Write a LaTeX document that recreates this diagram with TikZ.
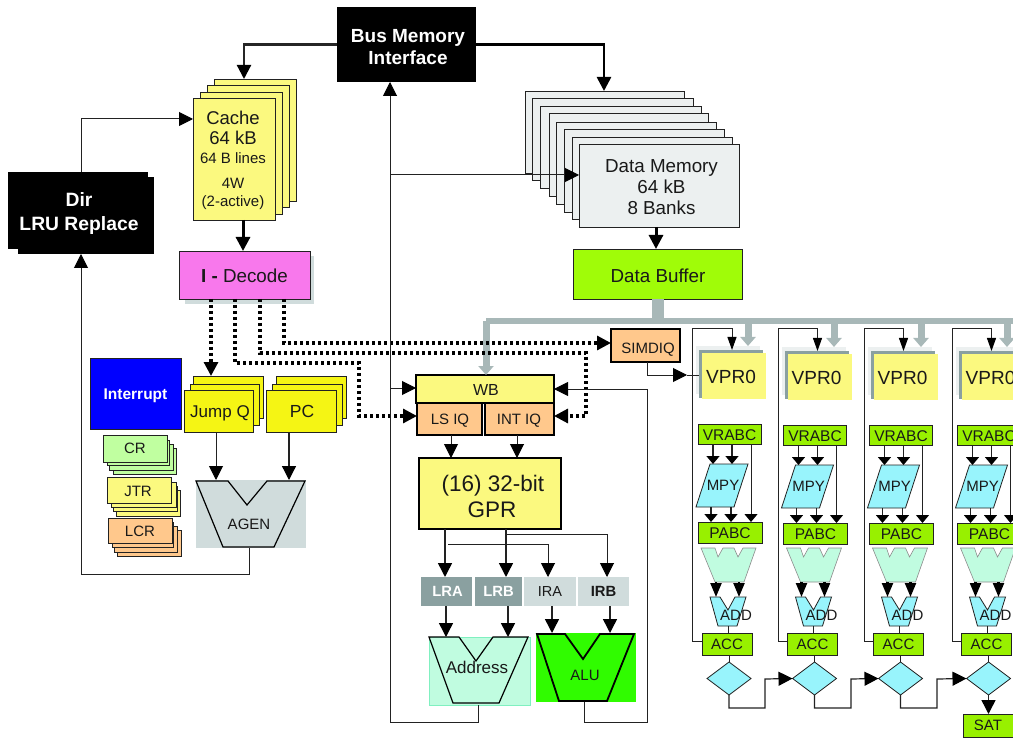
\documentclass[tikz,border=0pt]{standalone}
\usepackage{fontspec}
\setmainfont{Liberation Sans}
\usetikzlibrary{arrows.meta,shapes.geometric}
\definecolor{cYel}{HTML}{FBF97F}
\definecolor{cJmp}{HTML}{F5F514}
\definecolor{cOra}{HTML}{FFC88C}
\definecolor{cLim}{HTML}{C0FFA0}
\definecolor{cPnk}{HTML}{F878EC}
\definecolor{cGrn}{HTML}{A0FC08}
\definecolor{cAcc}{HTML}{98F000}
\definecolor{cCya}{HTML}{98F4FC}
\definecolor{cMnt}{HTML}{C0FCE0}
\definecolor{cMnB}{HTML}{80F0C0}
\definecolor{cAlu}{HTML}{30FC00}
\definecolor{cGry}{HTML}{D0DCDC}
\definecolor{cDrk}{HTML}{8AA0A0}
\definecolor{cBus}{HTML}{A8B8B8}
\definecolor{cPal}{HTML}{ECF0F0}
\definecolor{cLin}{HTML}{222222}
% zero-size text placed at an offset (dx, dy) from the node centre, cap-centred
\newcommand\tx[4]{{\fontsize{#3}{#3}\selectfont\raisebox{\dimexpr -#2pt-.36em\relax}[0pt][0pt]{\makebox[0pt]{\hspace*{\dimexpr #1pt*2\relax}#4}}}}
\newcommand\bx[7]{\node[#6,anchor=north west,minimum width={((#4)-(#2))*1pt},minimum height={((#5)-(#3))*1pt}] (#1) at (#2,#3) {#7};}
\tikzset{
  x=1pt,y=-1pt,
  every node/.style={inner sep=0pt,outer sep=0pt,text=black!90},
  card/.style={draw=cLin,line width=.9pt,fill=#1},
  heavy/.style={draw=black,line width=1.8pt,fill=#1},
  flat/.style={fill=#1},
  ghost/.style={},
  conn/.style={draw=cLin,line width=1pt},
  conm/.style={draw=cLin,line width=1.5pt},
  conh/.style={draw=black,line width=3pt},
  dots/.style={draw=black,line width=3.1pt,dash pattern=on 3pt off 3pt},
  busl/.style={draw=cBus,line width=6pt},
  busa/.style={draw=cBus,line width=7pt,-{Triangle[length=9pt,width=15pt]}},
  tipb/.style={-{Triangle[length=14pt,width=14pt,color=black,fill=black]}},
  tipv/.style={-{Triangle[length=13pt,width=9pt,color=black,fill=black]}},
  tipf/.style={-{Triangle[length=8pt,width=13pt,color=black,fill=black]}},
  tipt/.style={-{Triangle[length=14pt,width=11pt,color=black,fill=black]}},
  poly/.style={draw=black,line width=1pt},
  polh/.style={draw=black,line width=1.8pt},
  soft/.style={draw=black!45,line width=.6pt,fill=cMnt},
  cyan/.style={draw=cLin,line width=.8pt,fill=cCya},
}
\newcommand\col[3]{%
\begin{scope}[shift={(#2,0)}]
 \begin{scope}[shift={(0,#3)}]
  \bx{vb#1}{696}{346}{760}{394}{flat=cPal}{}
  \bx{vg#1}{699}{350}{763}{398}{flat=cDrk}{}
  \bx{vy#1}{702}{353}{766}{399}{flat=cYel}{\tx{-3}{1}{19}{VPR0}}
  \bx{vr#1}{698}{424}{761}{444}{card=cAcc}{\tx{0}{1}{15.5}{VRABC}}
  \draw[cyan] (710,464) -- (748,464) -- (734,507) -- (696,507) -- cycle;
  \bx{mp#1}{696}{464}{748}{507}{ghost}{\tx{1}{0}{15}{MPY}}
  \bx{pa#1}{698}{522}{762}{543}{card=cAcc}{\tx{0}{0}{15.5}{PABC}}
  \draw[conm,tipf] (713,0 |- vr#1.south) -- (713,0 |- mp#1.north);
  \draw[conm,tipf] (732,0 |- vr#1.south) -- (732,0 |- mp#1.north);
  \draw[conn,tipf] (751,0 |- vr#1.south) -- (751,0 |- pa#1.north);
  \draw[conm,tipf] (711,0 |- mp#1.south) -- (711,0 |- pa#1.north);
  \draw[conm,tipf] (731,0 |- mp#1.south) -- (731,0 |- pa#1.north);
 \end{scope}
 \draw[soft] (701,548) -- (715,548) -- (718,557) -- (723,548) -- (734,548) -- (738,557) -- (743,548) -- (756,548) -- (744,582) -- (715,582) -- cycle;
 \bx{tr#1}{701}{548}{756}{582}{ghost}{}
 \draw[cyan] (710,597) -- (720,597) -- (728,610) -- (735,597) -- (746,597) -- (737,626) -- (718,626) -- cycle;
 \bx{ad#1}{710}{597}{746}{626}{ghost}{\tx{8}{3.5}{15}{ADD}}
 \bx{ac#1}{702}{633}{752}{655.5}{card=cAcc}{\tx{0}{0}{15}{ACC}}
 \node[diamond,cyan,minimum width=44pt,minimum height=33pt,aspect=1.33] (di#1) at (729,678.5) {};
 \draw[conh,line width=2.2pt,tipt] (716,0 |- tr#1.south) -- (716,0 |- ad#1.north);
 \draw[conh,line width=2.2pt,tipt] (739,0 |- tr#1.south) -- (739,0 |- ad#1.north);
 \draw[conn] (728,0 |- ad#1.south) -- (728,0 |- ac#1.north);
 \draw[conn] (di#1.north |- ac#1.south) -- (di#1.north);
 \draw[conn,tipv] (702,641) -- (692.5,641) -- (692.5,328.5) -- (732,328.5) -- (732,0 |- vg#1.north);
\end{scope}}
\begin{document}
\begin{tikzpicture}
\useasboundingbox (0,0) rectangle (1013,738);
\clip (0,0) rectangle (1013,738);
\fill[white] (0,0) rectangle (1013,738);

% grey data bus
\coordinate (busL) at (486,321);
\coordinate (busM) at (658,321);
\coordinate (busR) at (1013,321);

% top
\bx{bus}{337}{7}{476}{82}{flat=black}{\bfseries\color{white}\tx{1.5}{-8.5}{19}{Bus Memory}\tx{1.5}{13.5}{19}{Interface}}
\bx{c4}{214}{79}{296}{201}{card=cYel}{}
\bx{c3}{207}{85}{289}{207}{card=cYel}{}
\bx{c2}{200}{92}{282}{214}{card=cYel}{}
\bx{cache}{193}{98}{275}{220}{card=cYel}{\tx{-1}{-41}{18.5}{Cache}\tx{-1}{-21}{18.5}{64 kB}\tx{-1}{-1}{15}{64 B lines}\tx{-1}{24}{15}{4W}\tx{-1}{42}{15}{(2-active)}}
\bx{dirb}{18}{177}{154}{254}{flat=black}{}
\bx{dir}{8}{172}{148}{249}{flat=black}{\bfseries\color{white}\tx{1}{-10.5}{19.3}{Dir}\tx{1}{13.5}{19.3}{LRU Replace}}
\bx{decs}{185}{256}{314}{304}{flat=cGry}{}
\bx{dec}{179}{251}{310}{299}{card=cPnk}{\tx{0}{1}{18.8}{{\bfseries I -} Decode}}

% data memory
\bx{m1}{525}{91}{684}{173}{card=cPal}{}
\bx{m2}{532}{98}{693}{180}{card=cPal}{}
\bx{m3}{540}{106}{701}{188}{card=cPal}{}
\bx{m4}{549}{113}{708}{196}{card=cPal}{}
\bx{m5}{556}{122}{716}{204}{card=cPal}{}
\bx{m6}{564}{129}{724}{212}{card=cPal}{}
\bx{m7}{572}{137}{732}{219}{card=cPal}{}
\bx{m8}{579}{144}{739}{227}{card=cPal}{\tx{2.5}{-19.5}{18.8}{Data Memory}\tx{2.5}{1.5}{18.8}{64 kB}\tx{2.5}{22.5}{18.8}{8 Banks}}
\bx{buf}{573}{249}{742}{299}{card=cGrn}{\tx{0.5}{2}{18.8}{Data Buffer}}

% left block
\bx{irq}{90}{358}{181}{429}{card=blue}{\bfseries\color{white}\tx{0}{0}{15.5}{Interrupt}}
\bx{j3}{193}{376}{263}{418}{card=cJmp}{}
\bx{j2}{190}{384}{259}{425}{card=cJmp}{}
\bx{jump}{184}{390}{253}{432}{card=cJmp}{\tx{1.5}{0}{17}{Jump Q}}
\bx{p3}{276}{376}{346}{418}{card=cJmp}{}
\bx{p2}{272}{384}{342}{425}{card=cJmp}{}
\bx{pc}{266}{390}{336}{432}{card=cJmp}{\tx{1}{0}{17.5}{PC}}
\bx{cr4}{113}{448}{176}{474}{card=cLim}{}
\bx{cr3}{109}{444}{173}{470}{card=cLim}{}
\bx{cr2}{107}{440}{169}{465}{card=cLim}{}
\bx{cr}{103}{435}{167}{462}{card=cLim}{\tx{0}{-0.5}{15}{CR}}
\bx{jt4}{116}{490}{180}{516}{card=cYel}{}
\bx{jt3}{113}{486}{177}{511}{card=cYel}{}
\bx{jt2}{111}{482}{176}{507}{card=cYel}{}
\bx{jtr}{107}{477}{171}{503}{card=cYel}{\tx{-1}{1}{15}{JTR}}
\bx{lc4}{117}{530}{181}{556}{card=cOra}{}
\bx{lc3}{114}{526}{177}{552}{card=cOra}{}
\bx{lc2}{112}{522}{173}{547}{card=cOra}{}
\bx{lcr}{108}{518}{172}{543}{card=cOra}{\tx{0}{0.5}{15}{LCR}}
\bx{agen}{196}{480}{306}{548}{flat=cGry}{\tx{-2}{10}{15}{AGEN}}
\draw[poly,line width=1.2pt] (196,481) -- (228,481) -- (247,505) -- (267,481) -- (305,481) -- (274,547) -- (223,547) -- cycle;

% middle block
\bx{wb}{416}{375}{554}{403}{heavy=cYel}{\tx{1}{1}{16}{WB}}
\bx{ls}{417}{403}{482}{435}{heavy=cOra}{\tx{0.5}{0}{15}{LS IQ}}
\bx{int}{485}{403}{554}{435}{heavy=cOra}{\tx{-0.5}{0}{15}{INT IQ}}
\bx{gpr}{419}{458}{561}{529}{heavy=cYel}{\tx{3}{-10.5}{22.5}{(16) 32-bit}\tx{2}{15.5}{22.5}{GPR}}
\bx{sim}{611}{329}{680}{362}{heavy=cOra}{\tx{2.5}{2.5}{15}{SIMDIQ}}
\bx{lra}{421}{577}{472}{606}{flat=cDrk}{\bfseries\color{white}\tx{1}{0}{14.8}{LRA}}
\bx{lrb}{475}{577}{522}{606}{flat=cDrk}{\bfseries\color{white}\tx{0}{0}{14.8}{LRB}}
\bx{ira}{524}{577}{576}{606}{flat=cGry}{\tx{0}{0}{14.5}{IRA}}
\bx{irb}{578}{577}{629}{606}{flat=cGry}{\bfseries\tx{0}{0}{14.8}{IRB}}
\bx{addr}{429}{637}{530}{705}{draw=cMnB,fill=cMnt,line width=.8pt}{\tx{-2.5}{-4}{17}{Address}}
\draw[poly,line width=1.2pt] (429,637) -- (459,637) -- (476,661) -- (493,637) -- (528,637) -- (499,703) -- (453,703) -- cycle;
\bx{alu}{536}{633}{636}{702}{flat=cAlu}{\tx{-1}{7.5}{15}{ALU}}
\draw[polh] (537,634) -- (565,634) -- (583,659) -- (600,634) -- (634,634) -- (607,701) -- (559,701) -- cycle;

% vector columns
\col{1}{0}{0}
\col{2}{85.5}{1}
\col{3}{171.5}{1}
\col{4}{259.5}{1}
\bx{sat}{963}{714}{1013}{737}{card=cAcc}{\tx{0}{0}{15}{SAT}}

% grey bus
\draw[busl] (busL) -- (busR);
\draw[draw=cBus,line width=12pt] (658,0 |- buf.south) -- (busM);
\draw[busa] (busL) -- (486,0 |- wb.north);
\foreach \i/\xx in {1/748,2/834,3/921,4/1007}
  \draw[busa] (\xx,321) -- (\xx,0 |- vb\i.north);

% main connectors
\draw[draw=black!85,line width=2.2pt,tipb] (bus.west) -- (244,0 |- bus.west) -- (244,0 |- c4.north);
\draw[conh,line width=2.6pt,tipb] (bus.east) -- (604,0 |- bus.east) -- (604,0 |- m1.north);
\draw[conn,tipb] (81,0 |- dir.north) -- (81,119) -- (cache.west |- 0,119);
\draw[conh,tipb] (243,0 |- cache.south) -- (243,0 |- dec.north);
\draw[conh,tipb] (656,0 |- m8.south) -- (656,0 |- buf.north);
\draw[conn,tipb] (249,0 |- agen.south) -- (249,574) -- (81,574) -- (81,0 |- dirb.south);
\draw[conn,tipb] (216,0 |- jump.south) -- (216,0 |- agen.north);
\draw[conn,line width=1.3pt,tipb] (289,0 |- pc.south) -- (289,0 |- agen.north);

% dotted control lines
\draw[dots,tipb] (211,0 |- dec.south) -- (211,0 |- j3.north);
\draw[dots,tipb] (235,0 |- dec.south) -- (235,363) -- (359,363) -- (359,416) -- (ls.west |- 0,416);
\draw[dots,tipb] (260,0 |- dec.south) -- (260,353) -- (586,353) -- (586,416) -- (int.east |- 0,416);
\draw[dots,tipb] (284,0 |- dec.south) -- (284,343) -- (sim.west |- 0,343);

% loop-back lines
\coordinate (jn) at (390,722);
\draw[conn,tipb] (478,0 |- addr.south) -- (478,722) -- (jn) -- (390,0 |- bus.south);
\draw[conn,tipb] (390,175) -- (m8.west |- 0,175);
\draw[conn,tipb] (390,388) -- (wb.west |- 0,388);
\draw[conn,tipb] (584,0 |- alu.south) -- (584,722) -- (647,722) -- (647,389) -- (wb.east |- 0,389);
\draw[conn,tipb] (451,0 |- ls.south) -- (451,0 |- gpr.north) ;
\draw[conn,tipb] (517,0 |- int.south) -- (517,0 |- gpr.north);
\draw[conn,tipb] (647,0 |- sim.south) -- (647,375) -- (687,375);
\draw[conn] (687,375) -- (vg1.west |- 0,375);

% register fan-out
\draw[conm,tipb] (445,0 |- gpr.south) -- (445,0 |- lra.north);
\draw[conm,tipb] (506,0 |- gpr.south) -- (506,0 |- lrb.north);
\draw[conn,tipb] (506,534.5) -- (607,534.5) -- (607,0 |- irb.north);
\draw[conn,tipb] (448,544) -- (548,544) -- (548,0 |- ira.north);
\draw[conm,tipb] (446,0 |- lra.south) -- (446,0 |- addr.north);
\draw[conm,tipb] (508,0 |- lrb.south) -- (508,0 |- addr.north);
\draw[conm,tipb] (552,0 |- ira.south) -- (552,0 |- alu.north);
\draw[conm,tipb] (610,0 |- irb.south) -- (610,0 |- alu.north);

% saturation chain
\draw[conn,line width=1.2pt,tipb] (di1.south) -- (di1.south |- 0,708) -- (765,708) -- (765,679) -- (di2.west);
\draw[conn,line width=1.2pt,tipb] (di2.south) -- (di2.south |- 0,708) -- (851,708) -- (851,679) -- (di3.west);
\draw[conn,line width=1.2pt,tipb] (di3.south) -- (di3.south |- 0,708) -- (937,708) -- (937,679) -- (di4.west);
\draw[conm,tipb] (di4.south) -- (di4.south |- sat.north);
\end{tikzpicture}
\end{document}
